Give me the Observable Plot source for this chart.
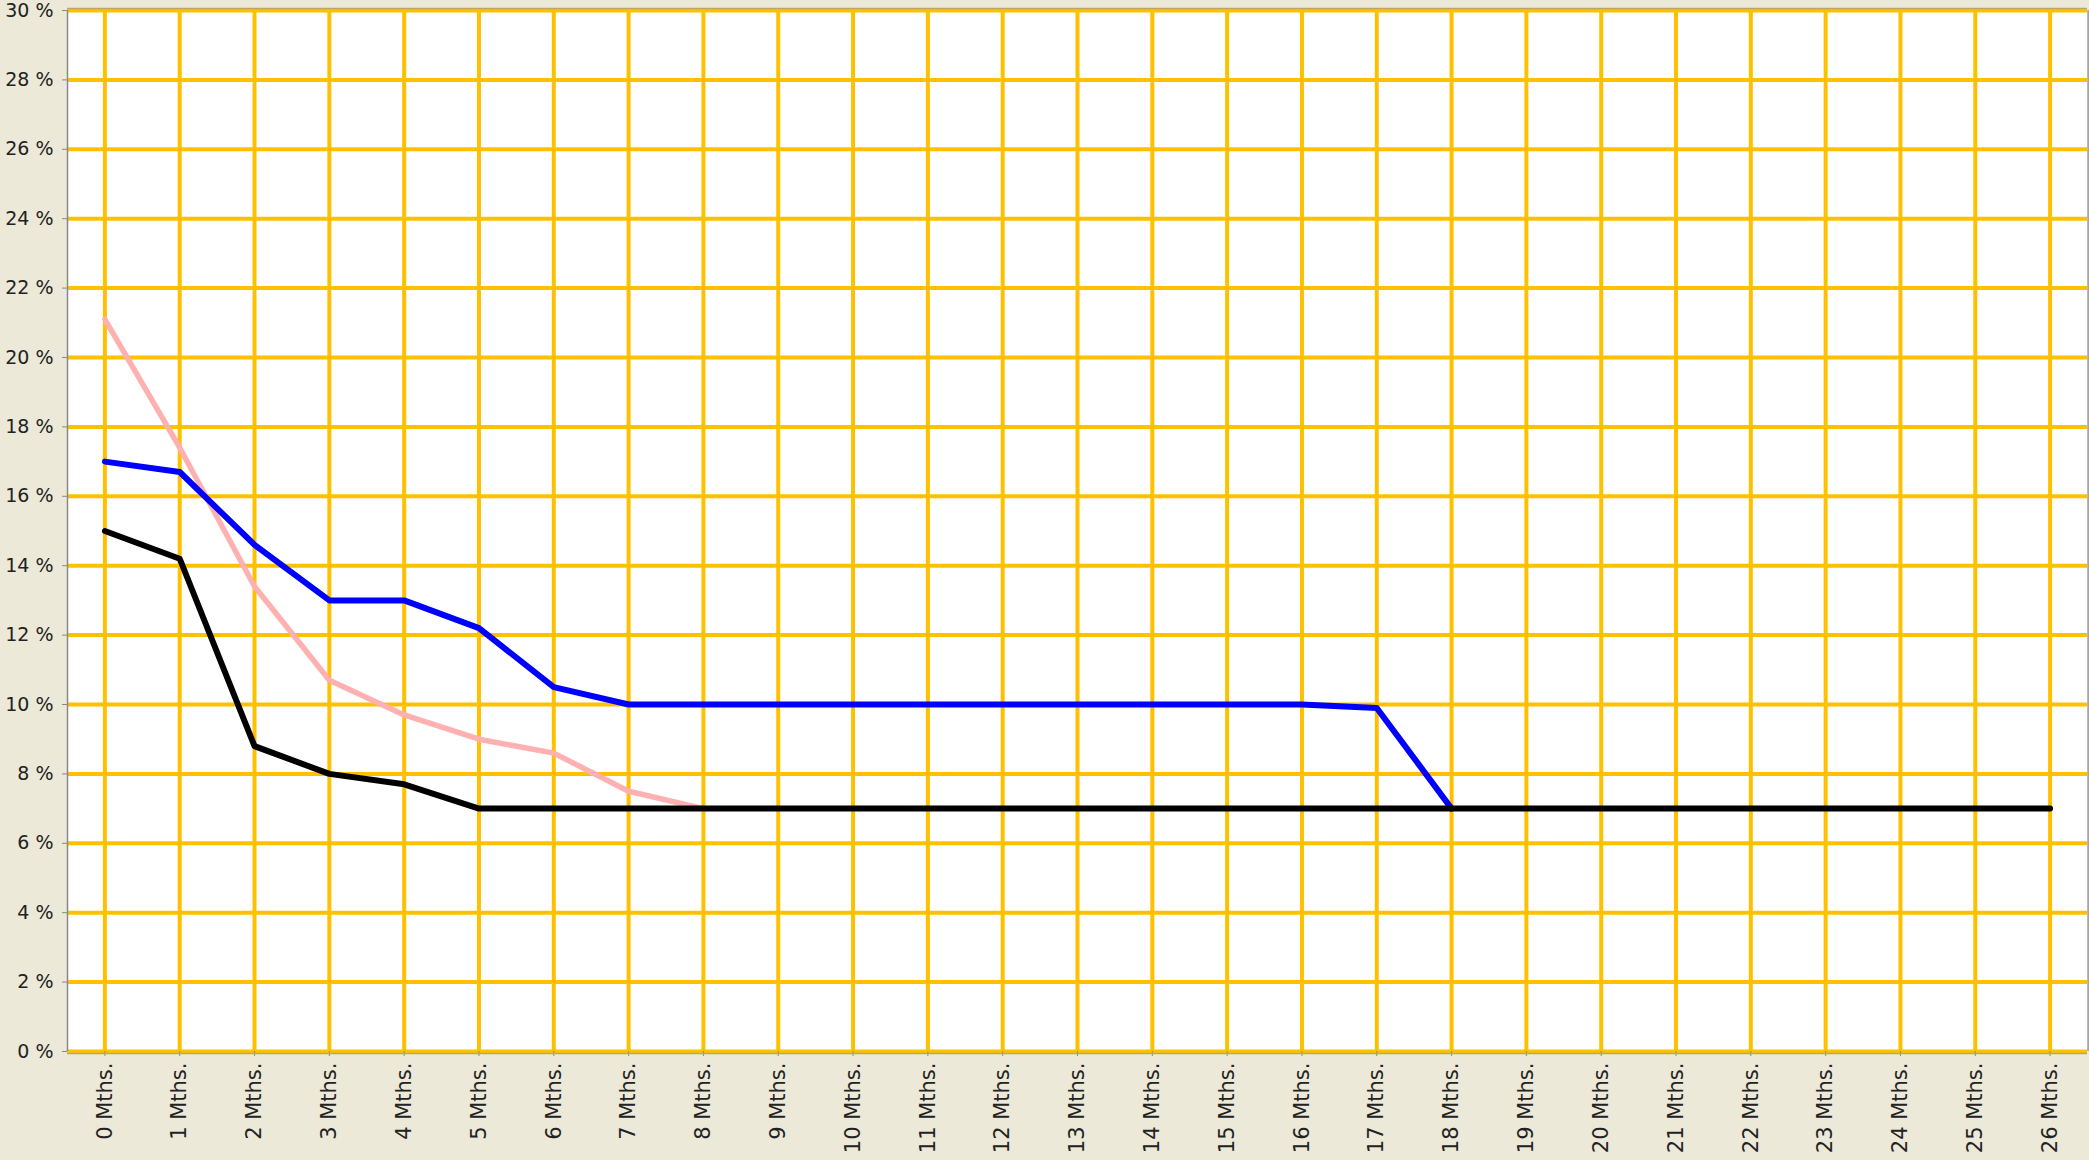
<!DOCTYPE html>
<html>
<head>
<meta charset="utf-8">
<script src="https://cdn.jsdelivr.net/npm/d3@7"></script>
<script src="https://cdn.jsdelivr.net/npm/@observablehq/plot@0.6"></script>
<style>
  html, body { margin: 0; padding: 0; background: #ECE9D8; }
  #chart svg { display: block; }
</style>
</head>
<body>
<div id="chart"></div>
<script>
const months = d3.range(0, 27).map(i => `${i} Mths.`);
const yTicks = d3.range(0, 31, 2);

// Pink and blue lines end where they meet the black 7 % line (hidden beneath it afterwards)
const pinkValues  = [21.1, 17.4, 13.4, 10.7, 9.7, 9.0, 8.6, 7.5, 7.0];
const blueValues  = [17.0, 16.7, 14.6, 13.0, 13.0, 12.2, 10.5, 10.0, 10.0, 10.0, 10.0, 10.0, 10.0, 10.0, 10.0, 10.0, 10.0, 9.9, 7.0];
const blackValues = [15.0, 14.2, 8.8, 8.0, 7.7, 7.0, 7, 7, 7, 7, 7, 7, 7, 7, 7, 7, 7, 7, 7, 7, 7, 7, 7, 7, 7, 7, 7];

const toRows = vals => vals.map((v, i) => ({month: months[i], value: v}));

const chart = Plot.plot({
  width: 2089,
  height: 1160,
  marginLeft: 67,
  marginRight: 2,
  marginTop: 10,
  marginBottom: 109,
  style: {fontFamily: "DejaVu Sans", background: "#ECE9D8", color: "#222"},
  x: {type: "point", domain: months, padding: 0.5, round: false},
  y: {domain: [0, 30]},
  marks: [
    Plot.frame({fill: "white", stroke: null}),
    Plot.ruleX(months, {x: d => d, stroke: "#FFC000", strokeWidth: 4}),
    Plot.ruleY(yTicks, {y: d => d, stroke: "#FFC000", strokeWidth: 4}),
    Plot.line(toRows(pinkValues), {x: "month", y: "value", stroke: "#FFB0B0", strokeWidth: 5.5}),
    Plot.line(toRows(blueValues), {x: "month", y: "value", stroke: "#0000FF", strokeWidth: 6}),
    Plot.line(toRows(blackValues), {x: "month", y: "value", stroke: "#000000", strokeWidth: 6}),
    Plot.axisY({ticks: yTicks, tickFormat: d => `${d} %`, tickSize: 5, tickPadding: 9, fontSize: 19, stroke: "#888", fill: "#222", label: null}),
    Plot.axisX({tickRotate: -90, tickSize: 5, tickPadding: 6, fontSize: 21, stroke: "#888", fill: "#222", label: null}),
    Plot.ruleX([0], {x: () => months[0], dx: -37.4, y1: 0, y2: 30, stroke: "#888", strokeWidth: 1.5}),
    Plot.ruleY([0], {y: 0, dy: 2, stroke: "#B8A868", strokeWidth: 1.5}),
    Plot.ruleY([30], {y: 30, dy: -2, stroke: "#B8A868", strokeWidth: 1.5}),
    Plot.ruleX([0], {x: () => months[26], dx: 38, y1: 0, y2: 30, stroke: "#999", strokeWidth: 1.5})
  ]
});
document.getElementById("chart").appendChild(chart);
</script>
</body>
</html>
